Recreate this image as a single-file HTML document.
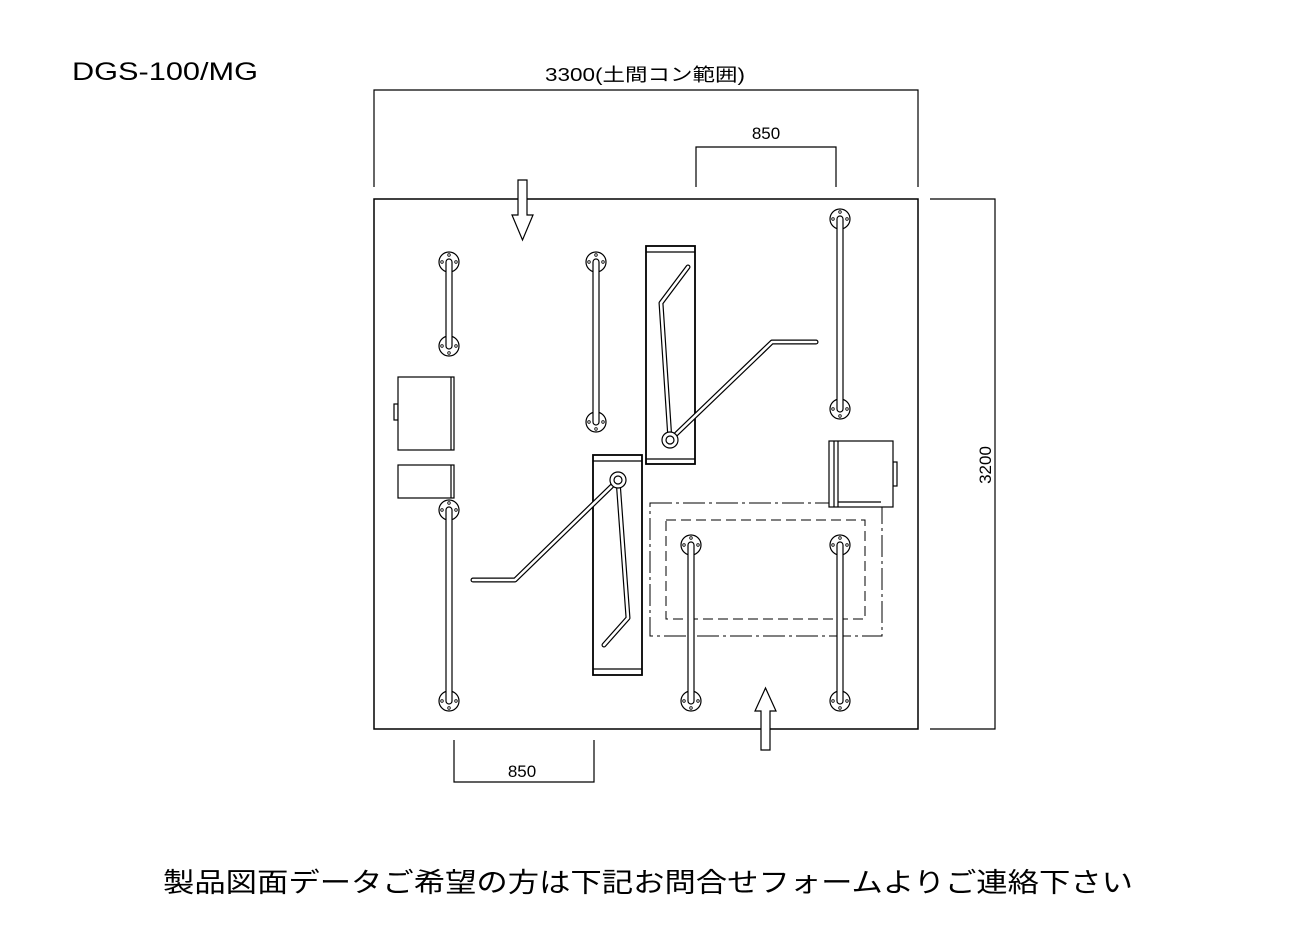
<!DOCTYPE html>
<html><head><meta charset="utf-8"><style>
body{margin:0;background:#fff}
svg{display:block}
text{font-family:"Liberation Sans","Noto Sans CJK JP",sans-serif;fill:#000}
</style></head><body>
<svg width="1296" height="936" viewBox="0 0 1296 936" xmlns="http://www.w3.org/2000/svg">
<defs>
<g id="fl"><circle r="10" fill="#fff" stroke="#000" stroke-width="1.2"/><circle cx="0" cy="-7" r="1.3" fill="none" stroke="#000" stroke-width="0.8"/><circle cx="0" cy="7" r="1.3" fill="none" stroke="#000" stroke-width="0.8"/><circle cx="-7" cy="0" r="1.3" fill="none" stroke="#000" stroke-width="0.8"/><circle cx="7" cy="0" r="1.3" fill="none" stroke="#000" stroke-width="0.8"/></g>
</defs>
<text x="72" y="80" font-size="25" textLength="186" lengthAdjust="spacingAndGlyphs">DGS-100/MG</text>
<text x="545" y="81" font-size="18" textLength="200" lengthAdjust="spacingAndGlyphs">3300(土間コン範囲)</text>
<g fill="none" stroke="#000" stroke-width="1.2">
<polyline points="374,187 374,90 918,90 918,187"/>
<polyline points="696,187 696,147 836,147 836,187"/>
<polyline points="930,199 995,199 995,729 930,729"/>
<polyline points="454,740 454,782 594,782 594,740"/>
<rect x="374" y="199" width="544" height="530" stroke-width="1.5"/>
</g>
<text x="766" y="139" font-size="17" text-anchor="middle">850</text>
<text x="522" y="777" font-size="17" text-anchor="middle">850</text>
<text transform="translate(991,465) rotate(-90)" font-size="17" text-anchor="middle">3200</text>
<polygon points="518,180 527,180 527,215 533,215 522.5,240 512,215 518,215" fill="#fff" stroke="#000" stroke-width="1.2"/>
<polygon points="761,750 770,750 770,711 776,711 765.5,688 755,711 761,711" fill="#fff" stroke="#000" stroke-width="1.2"/>
<rect x="650" y="503" width="232" height="133" fill="none" stroke="#000" stroke-width="1" stroke-dasharray="22,4,3,4"/>
<rect x="666" y="520" width="199" height="99" fill="none" stroke="#000" stroke-width="1" stroke-dasharray="10,5"/>
<g fill="#fff" stroke="#000" stroke-width="1.2">
<rect x="394" y="404" width="4" height="16"/>
<rect x="398" y="377" width="56" height="73"/>
<line x1="451" y1="377" x2="451" y2="450"/>
<rect x="398" y="465" width="56" height="33"/>
<line x1="451" y1="465" x2="451" y2="498"/>
<rect x="893" y="462" width="4" height="24"/>
<rect x="829" y="441" width="64" height="66"/>
<line x1="834" y1="441" x2="834" y2="507"/>
<line x1="838" y1="441" x2="838" y2="507"/>
<line x1="838" y1="502" x2="881" y2="502"/>
<rect x="646" y="246" width="49" height="218" stroke-width="1.8"/>
<line x1="646" y1="252" x2="695" y2="252"/>
<line x1="646" y1="459" x2="695" y2="459"/>
<rect x="593" y="455" width="49" height="220" stroke-width="1.8"/>
<line x1="593" y1="461" x2="642" y2="461"/>
<line x1="593" y1="669" x2="642" y2="669"/>
</g>
<g fill="none" stroke-linejoin="round" stroke-linecap="round">
<g stroke="#000" stroke-width="5">
<polyline points="688,267 661,303 670,440"/>
<polyline points="670,440 772,342 816,342"/>
<polyline points="618,480 628,618 604,645"/>
<polyline points="618,480 515,580 473,580"/>
</g>
<g stroke="#fff" stroke-width="2.6">
<polyline points="688,267 661,303 670,440"/>
<polyline points="670,440 772,342 816,342"/>
<polyline points="618,480 628,618 604,645"/>
<polyline points="618,480 515,580 473,580"/>
</g>
</g>
<g fill="#fff" stroke="#000" stroke-width="1.2">
<circle cx="670" cy="440" r="8"/><circle cx="670" cy="440" r="4"/>
<circle cx="618" cy="480" r="8"/><circle cx="618" cy="480" r="4"/>
</g>
<g>
<use href="#fl" x="449" y="262"/><use href="#fl" x="449" y="346"/>
<rect x="446" y="259" width="6" height="90" rx="3" fill="#fff" stroke="#000" stroke-width="1.2"/>
<use href="#fl" x="596" y="262"/><use href="#fl" x="596" y="422"/>
<rect x="593" y="259" width="6" height="166" rx="3" fill="#fff" stroke="#000" stroke-width="1.2"/>
<use href="#fl" x="840" y="219"/><use href="#fl" x="840" y="409"/>
<rect x="837" y="216" width="6" height="196" rx="3" fill="#fff" stroke="#000" stroke-width="1.2"/>
<use href="#fl" x="449" y="510"/><use href="#fl" x="449" y="701"/>
<rect x="446" y="507" width="6" height="197" rx="3" fill="#fff" stroke="#000" stroke-width="1.2"/>
<use href="#fl" x="691" y="545"/><use href="#fl" x="691" y="701"/>
<rect x="688" y="542" width="6" height="162" rx="3" fill="#fff" stroke="#000" stroke-width="1.2"/>
<use href="#fl" x="840" y="545"/><use href="#fl" x="840" y="701"/>
<rect x="837" y="542" width="6" height="162" rx="3" fill="#fff" stroke="#000" stroke-width="1.2"/>
</g>
<text x="648" y="892" font-size="27" text-anchor="middle" textLength="970" lengthAdjust="spacingAndGlyphs">製品図面データご希望の方は下記お問合せフォームよりご連絡下さい</text>
</svg>
</body></html>
